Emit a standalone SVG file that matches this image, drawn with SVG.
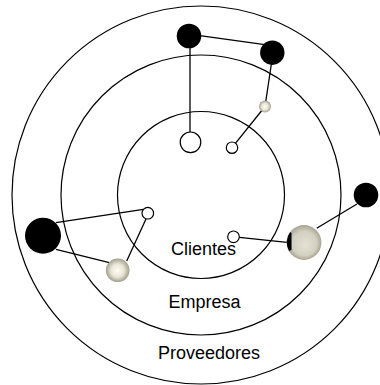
<svg xmlns="http://www.w3.org/2000/svg" width="380" height="385" viewBox="0 0 380 385">
<style>
.ring{fill:none;stroke:#000;stroke-width:1.2}
.ln{stroke:#000;stroke-width:1.3;fill:none}
.blk{fill:#000}
.wht{fill:#fff;stroke:#000;stroke-width:1.2}
.lbl{font-family:"Liberation Sans",Arial,sans-serif;font-size:18px;fill:#000;text-anchor:middle}
</style>
<defs>
<radialGradient id="sph" cx="0.5" cy="0.5" r="0.5" fx="0.48" fy="0.52">
<stop offset="0" stop-color="#fffff4"/>
<stop offset="0.55" stop-color="#e8e6d6"/>
<stop offset="1" stop-color="#a29e8e"/>
</radialGradient>
<radialGradient id="sphBig" cx="0.5" cy="0.5" r="0.5" fx="0.55" fy="0.6">
<stop offset="0" stop-color="#e4e2d4"/>
<stop offset="0.7" stop-color="#d2d0c0"/>
<stop offset="1" stop-color="#a8a494"/>
</radialGradient>
</defs>
<g id="rings">
<circle class="ring" cx="201" cy="195" r="189"/>
<circle class="ring" cx="201" cy="195" r="140"/>
<circle class="ring" cx="201" cy="195" r="83.5"/>
</g>
<g id="connectors">
<line class="ln" x1="189" y1="34.2" x2="272" y2="45.7"/>
<line class="ln" x1="190" y1="36" x2="190" y2="132"/>
<line class="ln" x1="273" y1="53" x2="265" y2="106.5"/>
<line class="ln" x1="265" y1="106.5" x2="232" y2="147.7"/>
<line class="ln" x1="56" y1="222.7" x2="143.3" y2="209.3"/>
<line class="ln" x1="56" y1="249.3" x2="109.3" y2="262.7"/>
<line class="ln" x1="126.7" y1="261" x2="146" y2="219"/>
<line class="ln" x1="239.3" y1="237.3" x2="287" y2="242.3"/>
<line class="ln" x1="316.7" y1="228.3" x2="357" y2="204"/>
</g>
<g id="n-top-black"><circle class="blk" cx="189" cy="36" r="12.3"/></g>
<g id="n-topright-black"><circle class="blk" cx="272.3" cy="52.7" r="12.2"/></g>
<g id="n-small-sphere"><circle fill="url(#sph)" cx="265" cy="106.5" r="6"/></g>
<g id="n-white-big"><circle class="wht" cx="190.5" cy="142.3" r="10.3"/></g>
<g id="n-white-top"><circle class="wht" cx="232" cy="147.7" r="5.7"/></g>
<g id="n-right-black"><circle class="blk" cx="366" cy="195" r="12.3"/></g>
<g id="n-big-sphere">
<circle fill="url(#sphBig)" cx="304" cy="242.5" r="17.4"/>
<path class="blk" d="M290.2,232 A17.4,17.4 0 0 0 289,251 L291.5,250 L291.5,233 Z"/>
</g>
<g id="n-white-left"><circle class="wht" cx="147.8" cy="213.2" r="5.8"/></g>
<g id="n-white-bottom"><circle class="wht" cx="233.5" cy="236.8" r="5.8"/></g>
<g id="n-left-black"><circle class="blk" cx="43" cy="235.7" r="18"/></g>
<g id="n-left-sphere"><circle fill="url(#sph)" cx="117.7" cy="270.3" r="11.8"/></g>
<g id="labels">
<text class="lbl" x="203.5" y="255">Clientes</text>
<text class="lbl" x="204.5" y="307.5">Empresa</text>
<text class="lbl" x="209" y="358.5">Proveedores</text>
</g>
</svg>
